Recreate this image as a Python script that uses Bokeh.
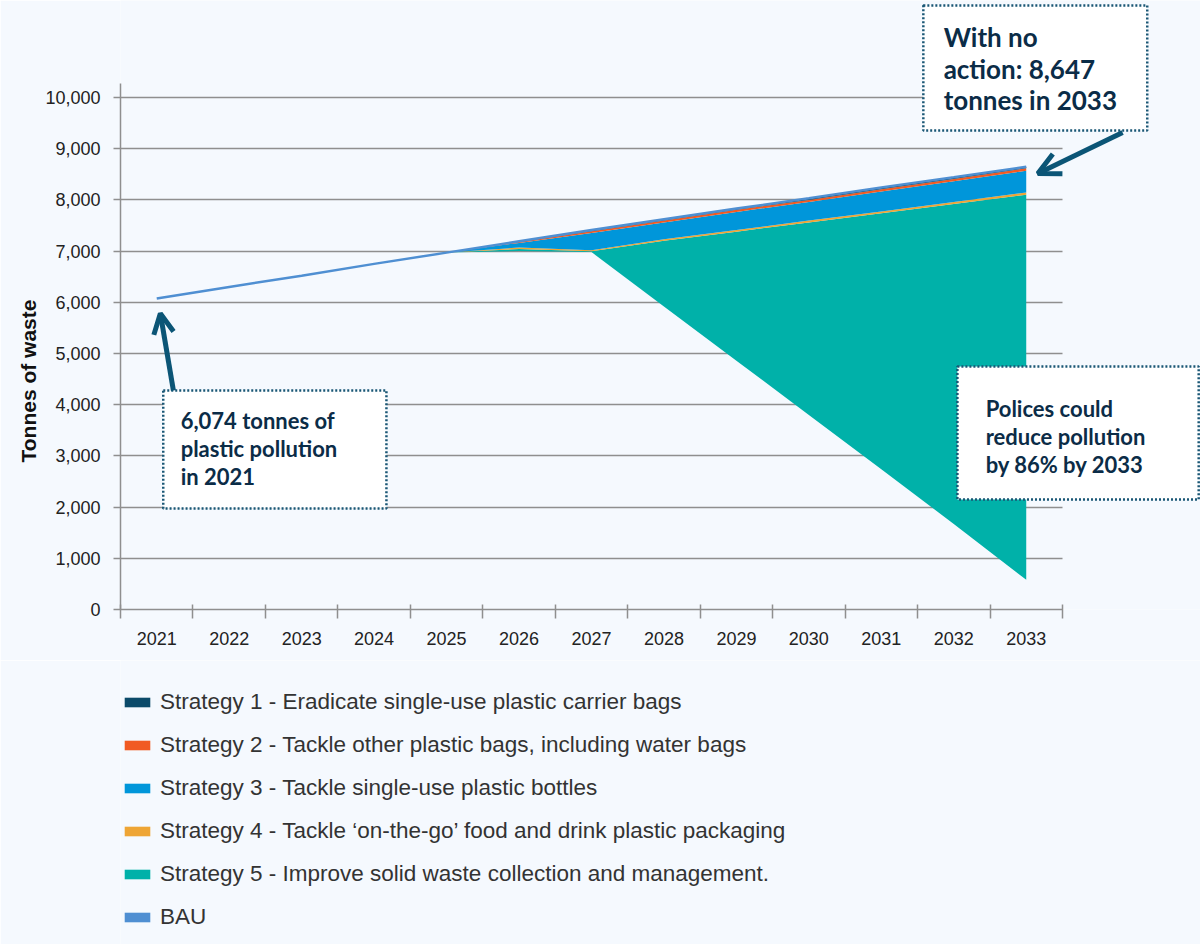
import numpy as np
from bokeh.plotting import figure
from bokeh.layouts import column
from bokeh.models import (Range1d, FixedTicker, NumeralTickFormatter, Legend, LegendItem,
                          Label, BoxAnnotation, Arrow, OpenHead, Title)
from bokeh.embed import file_html
from bokeh.resources import INLINE

# ---------------- data ----------------
years = [2021, 2022, 2023, 2024, 2025, 2026, 2027, 2028, 2029, 2030, 2031, 2032, 2033]
year_labels = ["2021", "2022", "2023", "2024", "2025", "2026", "2027",
               "2028", "2029", "2030", "2031", "2032", "2033"]
bau = [6074, 6300, 6520, 6750, 6970, 7190, 7410, 7620, 7830, 8030, 8240, 8440, 8647]
remaining = [6074, 6300, 6520, 6750, 6970, 7000, 6980, 5920, 4860, 3800, 2740, 1670, 580]
s5_waste = [0, 0, 0, 0, 0, 40, 15, 1280, 2520, 3760, 5000, 6250, 7520]
s4_packaging = [0, 0, 0, 0, 0, 30, 20, 30, 30, 35, 35, 40, 45]
s3_bottles = [0, 0, 0, 0, 0, 90, 340, 330, 355, 365, 390, 405, 422]
s2_other_bags = [0, 0, 0, 0, 0, 15, 30, 35, 40, 40, 45, 45, 50]
s1_carrier_bags = [0, 0, 0, 0, 0, 15, 25, 25, 25, 30, 30, 30, 30]
y_ticks = [0, 1000, 2000, 3000, 4000, 5000, 6000, 7000, 8000, 9000, 10000]
legend_labels = [
    "Strategy 1 - Eradicate single-use plastic carrier bags",
    "Strategy 2 - Tackle other plastic bags, including water bags",
    "Strategy 3 - Tackle single-use plastic bottles",
    "Strategy 4 - Tackle \u2018on-the-go\u2019 food and drink plastic packaging",
    "Strategy 5 - Improve solid waste collection and management.",
    "BAU",
]

# ---------------- styles ----------------
BG = "#f5f9fe"
AX = "#8f8f8f"
C_S1 = "#0b4a69"
C_S2 = "#f15a22"
C_S3 = "#0096da"
C_S4 = "#eea535"
C_S5 = "#00b1a9"
C_BAU = "#4f8fd2"
NAVY = "#0b2c47"
ARROW = "#0b5576"
BOXLINE = "#1a5775"

X0, X1 = 2020.5, 2033.5   # category band edges of the axis
Y_AXIS_TOP = 10273

x = np.array(years, dtype=float)

p = figure(width=1200, height=660, output_backend="svg", toolbar_location=None,
           x_range=Range1d(X0, 2035.405), y_range=Range1d(0, 11894),
           min_border_left=120, min_border_right=0, min_border_top=0,
           min_border_bottom=51)
p.background_fill_color = BG
p.border_fill_color = BG
p.outline_line_color = None

# axes
bounds = [yr - 0.5 for yr in years] + [years[-1] + 0.5]
p.xaxis.ticker = FixedTicker(ticks=years, minor_ticks=bounds)
p.xaxis.bounds = (X0, X1)
p.xaxis.major_label_overrides = {yr: lbl for yr, lbl in zip(years, year_labels)}
p.xaxis.major_tick_out = 0
p.xaxis.major_tick_in = 0
p.xaxis.minor_tick_out = 9
p.xaxis.minor_tick_in = 5
p.xaxis.minor_tick_line_color = AX
p.xaxis.minor_tick_line_width = 1.5
p.xaxis.axis_line_color = AX
p.xaxis.axis_line_width = 1.5
p.xaxis.major_label_standoff = 13
p.xaxis.major_label_text_font = "Liberation Sans"
p.xaxis.major_label_text_font_size = "18px"
p.xaxis.major_label_text_color = "#222222"

p.yaxis.ticker = FixedTicker(ticks=y_ticks)
p.yaxis.bounds = (0, Y_AXIS_TOP)
p.yaxis.formatter = NumeralTickFormatter(format="0,0")
p.yaxis.major_tick_out = 7
p.yaxis.major_tick_in = 0
p.yaxis.minor_tick_out = 0
p.yaxis.minor_tick_in = 0
p.yaxis.major_tick_line_color = AX
p.yaxis.major_tick_line_width = 1.5
p.yaxis.axis_line_color = AX
p.yaxis.axis_line_width = 1.5
p.yaxis.major_label_standoff = 13
p.yaxis.major_label_text_font = "Liberation Sans"
p.yaxis.major_label_text_font_size = "18px"
p.yaxis.major_label_text_color = "#222222"

p.xgrid.visible = False
p.ygrid.ticker = FixedTicker(ticks=y_ticks)
p.ygrid.grid_line_color = AX
p.ygrid.grid_line_width = 1.5
try:
    p.ygrid.cross_bounds = (X0, X1)
except Exception:
    p.ygrid.visible = False
    p.segment(x0=[X0] * len(y_ticks), x1=[X1] * len(y_ticks), y0=y_ticks, y1=y_ticks,
              line_color=AX, line_width=1.5)

p.add_layout(Title(text="Tonnes of waste", align="left", offset=147, standoff=6,
                   text_font="Liberation Sans", text_font_style="bold",
                   text_font_size="21px", text_color="#111111"), "left")

# stacked areas
layers = [
    (np.array(remaining, float), None),
    (np.array(s5_waste, float), C_S5),
    (np.array(s4_packaging, float), C_S4),
    (np.array(s3_bottles, float), C_S3),
    (np.array(s2_other_bags, float), C_S2),
    (np.array(s1_carrier_bags, float), C_S1),
]
base = np.zeros(len(years))
for vals, col in layers:
    top = base + vals
    if col is not None:
        p.varea(x=x, y1=base, y2=top, fill_color=col, fill_alpha=1.0)
    base = top

bau_arr = np.array(bau, float)
p.line(x=x, y=bau_arr, line_color=C_BAU, line_width=2.5)

# annotation boxes
def box(l, r, t, b):
    p.add_layout(BoxAnnotation(left=l, right=r, top=t, bottom=b, fill_color="white",
                               fill_alpha=1.0, line_color=BOXLINE, line_alpha=1.0,
                               line_width=2.5, line_dash="2 2"))

def lines(x0, ys, texts, size):
    for yy, tt in zip(ys, texts):
        p.add_layout(Label(x=x0, y=yy, text=tt, text_align="left", text_baseline="middle",
                           text_font="Lato", text_font_style="bold",
                           text_font_size=size, text_color=NAVY))

box(2031.58, 2034.67, 11797, 9355)
lines(2031.86, [11172, 10557, 9941], ["With no", "action: 8,647", "tonnes in 2033"], "26px")
box(2021.09, 2024.17, 4277, 1973)
lines(2021.33, [3691, 3145, 2598], ["6,074 tonnes of", "plastic pollution", "in 2021"], "22px")
box(2032.05, 2035.38, 4746, 2148)
lines(2032.44, [3926, 3379, 2832], ["Polices could", "reduce pollution", "by 86% by 2033"], "22px")

# arrows
p.add_layout(Arrow(x_start=2021.23, y_start=4277, x_end=2021.05, y_end=5781,
                   line_color=ARROW, line_width=5,
                   end=OpenHead(size=20, line_color=ARROW, line_width=5)))
p.add_layout(Arrow(x_start=2034.33, y_start=9316, x_end=2033.16, y_end=8516,
                   line_color=ARROW, line_width=5,
                   end=OpenHead(size=22, line_color=ARROW, line_width=5)))

# ---------------- legend panel ----------------
q = figure(width=1200, height=284, output_backend="svg", toolbar_location=None,
           x_range=Range1d(0, 1), y_range=Range1d(0, 1),
           x_axis_type=None, y_axis_type=None,
           min_border_left=0, min_border_right=0, min_border_top=0, min_border_bottom=0)
q.background_fill_color = BG
q.border_fill_color = BG
q.outline_line_color = None
q.xgrid.visible = False
q.ygrid.visible = False

swatch_colors = [C_S1, C_S2, C_S3, C_S4, C_S5, C_BAU]
items = []
for lbl, col in zip(legend_labels, swatch_colors):
    # legend swatch source, kept outside the visible range of this panel
    r = q.varea(x=[-2.0, -1.5], y1=[-2.0, -2.0], y2=[-1.5, -1.5], fill_color=col)
    items.append(LegendItem(label=lbl, renderers=[r]))

legend = Legend(items=items, location=(1, 14), orientation="vertical",
                padding=0, margin=0, spacing=17,
                glyph_width=32, glyph_height=12, label_standoff=7, label_height=20,
                label_text_font="Liberation Sans", label_text_font_size="22.5px",
                label_text_color="#333333", border_line_color=None,
                background_fill_alpha=0)
q.add_layout(legend)

layout = column(p, q, spacing=0)
open("out.html", "w").write(file_html(layout, INLINE))
